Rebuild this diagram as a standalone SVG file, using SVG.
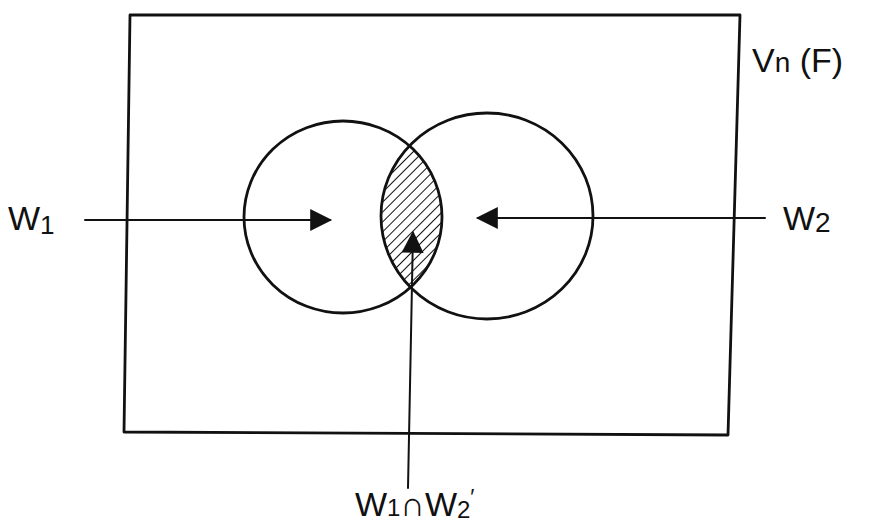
<svg xmlns="http://www.w3.org/2000/svg" width="869" height="524" viewBox="0 0 869 524">
<style>
.ln{fill:none;stroke:#111;stroke-width:2.8;stroke-linecap:round;stroke-linejoin:round}
.t{font-family:"Liberation Sans",sans-serif;fill:#111;font-size:34px}
</style>
<defs>
<marker id="ah" viewBox="0 0 10 10" refX="9" refY="5" markerWidth="24" markerHeight="22" markerUnits="userSpaceOnUse" orient="auto">
<path d="M0,0 L10,5 L0,10 z" fill="#111"/>
</marker>
<pattern id="hatch" width="7" height="7" patternUnits="userSpaceOnUse" patternTransform="rotate(45)">
<line x1="0" y1="0" x2="0" y2="7" stroke="#111" stroke-width="2"/>
</pattern>
<clipPath id="leftc"><ellipse cx="343" cy="217" rx="99" ry="96"/></clipPath>
</defs>
<g id="universe">
<path class="ln" d="M130,15 L740,15 L728,435 L124,432 Z"/>
<text class="t" x="752" y="72">V<tspan font-size="28">n</tspan> (F)</text>
</g>
<g id="intersection">
<ellipse cx="487" cy="216" rx="106" ry="103" fill="url(#hatch)" clip-path="url(#leftc)"/>
</g>
<g id="w1-set">
<ellipse class="ln" cx="343" cy="217" rx="99" ry="96"/>
</g>
<g id="w2-set">
<ellipse class="ln" cx="487" cy="216" rx="106" ry="103"/>
</g>
<g id="labels">
<text class="t" x="8" y="230">W<tspan font-size="26" dy="4">1</tspan></text>
<text class="t" x="783" y="230">W<tspan font-size="28" dy="2">2</tspan></text>
<text class="t" x="355" y="516">W<tspan font-size="24">1</tspan>∩W<tspan font-size="24" dy="2">2</tspan><tspan dy="-14" font-size="22">′</tspan></text>
</g>
<g id="connectors">
<line class="ln" x1="85" y1="220" x2="330" y2="220" marker-end="url(#ah)" style="stroke-width:2"/>
<line class="ln" x1="765" y1="218" x2="478" y2="218" marker-end="url(#ah)" style="stroke-width:2"/>
<line class="ln" x1="408" y1="488" x2="413" y2="233" marker-end="url(#ah)" style="stroke-width:2"/>
</g>
</svg>
